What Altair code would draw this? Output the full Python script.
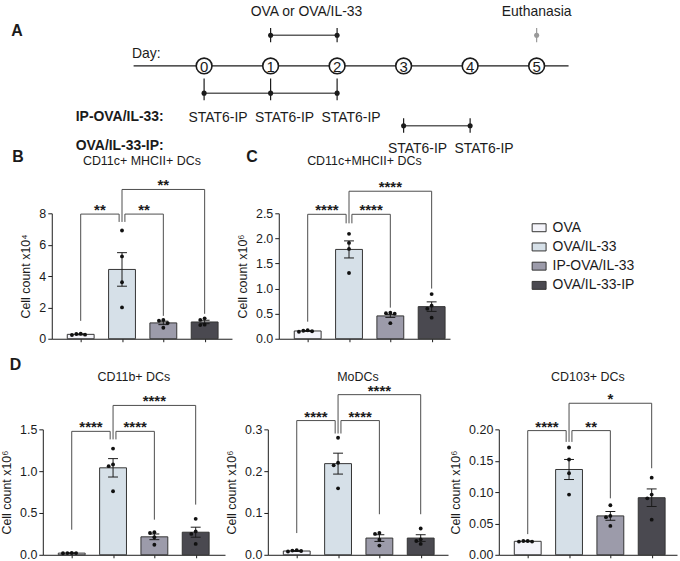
import altair as alt
import numpy as np
import pandas as pd

FONT = "Liberation Sans"
INK = "#1b1b1b"
LINE = "#4d4d4d"

GROUPS = ["OVA", "OVA/IL-33", "IP-OVA/IL-33", "OVA/IL-33-IP"]
FILLS = ["#f4f4fa", "#d6e0e8", "#9c9baa", "#4a4950"]

# ---- B: CD11c+ MHCII+ DCs (x10^4)
B_TITLE = "CD11c+ MHCII+ DCs"
B_EXP = "⁴"
B_TICKS = [0, 2, 4, 6, 8]
B_POINTS = [[0.32, 0.30, 0.26, 0.24], [6.9, 5.25, 3.6, 2.0], [1.2, 1.15, 1.0, 0.7], [1.3, 1.2, 0.9, 0.87]]
B_MEAN = [0.28, 4.42, 1.01, 1.07]
B_SEM = [0.03, 1.07, 0.11, 0.11]
B_SIG = [(1, 2, 7.95, "**"), (2, 3, 7.95, "**"), (2, 4, 9.52, "**")]
B_LEGS = [1.14, 7.45, 1.46, 1.59]

# ---- C: CD11c+MHCII+ DCs (x10^6)
C_TITLE = "CD11c+MHCII+ DCs"
C_EXP = "⁶"
C_TICKS = [0, 0.5, 1.0, 1.5, 2.0, 2.5]
C_POINTS = [[0.17, 0.16, 0.15, 0.14], [2.09, 1.91, 1.79, 1.31], [0.52, 0.51, 0.50, 0.31], [0.89, 0.66, 0.60, 0.42]]
C_MEAN = [0.155, 1.78, 0.455, 0.64]
C_SEM = [0.008, 0.17, 0.03, 0.095]
C_SIG = [(1, 2, 2.48, "****"), (2, 3, 2.48, "****"), (2, 4, 2.94, "****")]
C_LEGS = [0.34, 2.3, 0.62, 1.0]

# ---- D: CD11b+ DCs, MoDCs, CD103+ DCs (x10^6)
D1_TITLE = "CD11b+ DCs"
D1_TICKS = [0, 0.5, 1.0, 1.5]
D1_POINTS = [[0.022, 0.020, 0.020, 0.018], [1.27, 1.08, 1.06, 0.76], [0.27, 0.26, 0.21, 0.12], [0.43, 0.28, 0.25, 0.13]]
D1_MEAN = [0.02, 1.04, 0.215, 0.27]
D1_SEM = [0.002, 0.11, 0.034, 0.06]
D1_SIG = [(1, 2, 1.476, "****"), (2, 3, 1.476, "****"), (2, 4, 1.786, "****")]
D1_LEGS = [0.3, 1.38, 0.42, 0.6]

D2_TITLE = "MoDCs"
D2_TICKS = [0, 0.1, 0.2, 0.3]
D2_POINTS = [[0.011, 0.010, 0.009, 0.008], [0.28, 0.22, 0.214, 0.159], [0.052, 0.05, 0.036, 0.022], [0.063, 0.037, 0.033, 0.026]]
D2_MEAN = [0.009, 0.218, 0.04, 0.04]
D2_SEM = [0.001, 0.025, 0.008, 0.008]
D2_SIG = [(1, 2, 0.321, "****"), (2, 3, 0.321, "****"), (2, 4, 0.383, "****")]
D2_LEGS = [0.052, 0.29, 0.097, 0.097]

D3_TITLE = "CD103+ DCs"
D3_TICKS = [0, 0.05, 0.10, 0.15, 0.20]
D3_POINTS = [[0.022, 0.022, 0.021, 0.021], [0.171, 0.152, 0.130, 0.096], [0.079, 0.062, 0.060, 0.046], [0.123, 0.096, 0.090, 0.056]]
D3_MEAN = [0.0215, 0.136, 0.062, 0.091]
D3_SEM = [0.0005, 0.016, 0.007, 0.014]
D3_SIG = [(1, 2, 0.198, "****"), (2, 3, 0.198, "**"), (2, 4, 0.2416, "*")]
D3_LEGS = [0.033, 0.18, 0.09, 0.138]

# ---- A: dosing timeline
DAYS = [0, 1, 2, 3, 4, 5]
DOSE_DAYS = [1, 2]
EARLY_IP_DAYS = [0, 1, 2]
LATE_IP_DAYS = [3, 4]
END_DAY = 5

# layout
PANEL_H = 126
STEP_PX = 41.5
X_START = 0.3
BAR_HALF = 0.325
CAP_HALF = 0.12
SHARED_GAP = 0.07
DOT_PX = 4.4

A_W, A_H = 680, 150
DAY_PX, DAY0_PX = 66.8, 202
LVL_PX, LVL0_PX = 30, 65


def swarm(values, ppu):
    """Horizontal offsets (in x units) so that dots of similar value do not overlap."""
    placed = []
    offs = [0.0] * len(values)
    for k in sorted(range(len(values)), key=lambda i: -values[i]):
        py = values[k] * ppu
        ox = 0.0
        for m in [0, -1, 1, -2, 2, -3, 3]:
            ox = m * DOT_PX
            if all(np.hypot(ox - qx, py - qy) >= DOT_PX for qx, qy in placed):
                break
        placed.append((ox, py))
        offs[k] = ox / STEP_PX
    return offs


def bar_panel(title, exp, ticks, fmt, points, mean, sem, sig, legs, width,
              letter=None, letter_x=0, letter_y=0, legend=None):
    ymax = ticks[-1]
    ppu = PANEL_H / ymax
    pos = [1, 2, 3, 4]
    xs = alt.Scale(domain=[X_START, X_START + width / STEP_PX], nice=False, zero=False)
    ys = alt.Scale(domain=[0, ymax], nice=False, zero=False)
    x_axis = alt.Axis(values=pos, labels=False, title=None, grid=False, tickSize=3,
                      domainColor=INK, tickColor=INK, domainWidth=1, tickWidth=1)
    y_axis = alt.Axis(values=ticks, format=fmt, title=f"Cell count x10{exp}", grid=False,
                      tickSize=4, domainColor=INK, tickColor=INK, labelColor=INK,
                      labelFontSize=12.5, labelPadding=2, titleFontSize=12.5,
                      titleFontWeight="normal", titleColor=INK, titlePadding=6)
    X = lambda f: alt.X(f, scale=xs, axis=x_axis)
    Y = lambda f: alt.Y(f, scale=ys, axis=y_axis)

    bars = pd.DataFrame({
        "group": GROUPS, "pos": pos,
        "left": [p - BAR_HALF for p in pos], "right": [p + BAR_HALF for p in pos],
        "mean": mean, "base": [0] * 4,
        "lo": [m - s for m, s in zip(mean, sem)], "hi": [m + s for m, s in zip(mean, sem)],
    })
    caps = pd.DataFrame({
        "cl": [p - CAP_HALF for p in pos] * 2, "cr": [p + CAP_HALF for p in pos] * 2,
        "v": list(bars["lo"]) + list(bars["hi"]),
    })
    prow = []
    for g, vals in enumerate(points):
        for v, o in zip(vals, swarm(vals, ppu)):
            prow.append({"px": pos[g] + o, "val": v})
    pts = pd.DataFrame(prow)

    hl, vl, st = [], [], []
    for (i, j, lvl, stars) in sig:
        def shift(g, right_end):
            shared = sum(1 for (a, b, l, _) in sig if l == lvl and g in (a, b)) > 1
            if not shared:
                return 0.0
            return -SHARED_GAP if right_end else SHARED_GAP
        xi = i + shift(i, False)
        xj = j + shift(j, True)
        hl.append({"x": xi, "x2": xj, "y": lvl})
        vl.append({"x": xi, "y": legs[i - 1], "y2": lvl})
        vl.append({"x": xj, "y": legs[j - 1], "y2": lvl})
        st.append({"x": (xi + xj) / 2, "y": lvl, "t": stars})

    fill_kw = {"scale": alt.Scale(domain=GROUPS, range=FILLS)}
    fill_kw["legend"] = legend
    bar = alt.Chart(bars).mark_rect(stroke="#333333", strokeWidth=1).encode(
        x=X("left:Q"), x2="right:Q", y=Y("mean:Q"), y2="base:Q",
        fill=alt.Fill("group:N", **fill_kw),
    )
    err = alt.Chart(bars).mark_rule(color=INK, strokeWidth=1).encode(
        x=X("pos:Q"), y=Y("lo:Q"), y2="hi:Q")
    cap = alt.Chart(caps).mark_rule(color=INK, strokeWidth=1).encode(
        x=X("cl:Q"), x2="cr:Q", y=Y("v:Q"))
    dots = alt.Chart(pts).mark_circle(size=15, color="#111111", opacity=1).encode(
        x=X("px:Q"), y=Y("val:Q"))
    hline = alt.Chart(pd.DataFrame(hl)).mark_rule(color=LINE, strokeWidth=1).encode(
        x=X("x:Q"), x2="x2:Q", y=Y("y:Q"))
    vline = alt.Chart(pd.DataFrame(vl)).mark_rule(color=LINE, strokeWidth=1).encode(
        x=X("x:Q"), y=Y("y:Q"), y2="y2:Q")
    star = alt.Chart(pd.DataFrame(st)).mark_text(
        font=FONT, fontSize=15, fontWeight="bold", color=INK, baseline="alphabetic", dy=1
    ).encode(x=X("x:Q"), y=Y("y:Q"), text="t:N")
    head = alt.Chart(pd.DataFrame({"t": [title]})).mark_text(
        font=FONT, fontSize=12.5, color=INK, baseline="middle", align="center"
    ).encode(text="t:N", x=alt.value(width / 2), y=alt.value(-53))
    layers = [bar, err, cap, dots, hline, vline, star, head]
    if letter:
        layers.append(alt.Chart(pd.DataFrame({"t": [letter]})).mark_text(
            font=FONT, fontSize=16, fontWeight="bold", color=INK, baseline="middle", align="center"
        ).encode(text="t:N", x=alt.value(letter_x), y=alt.value(letter_y)))
    return alt.layer(*layers).properties(width=width, height=PANEL_H)


def schematic():
    xs = alt.Scale(domain=[-DAY0_PX / DAY_PX, (A_W - DAY0_PX) / DAY_PX], nice=False, zero=False)
    ys = alt.Scale(domain=[(LVL0_PX - A_H) / LVL_PX, LVL0_PX / LVL_PX], nice=False, zero=False)
    X = lambda f: alt.X(f, scale=xs, axis=None)
    Y = lambda f: alt.Y(f, scale=ys, axis=None)
    grey = "#9a9a9a"
    lv_dose, lv_early, lv_late = 1.03, -0.91, -2.0
    fs = 14

    line = alt.Chart(pd.DataFrame({"d": [-1.06], "d2": [5.48], "l": [0.0]})).mark_rule(
        color=INK, strokeWidth=1.2).encode(x=X("d:Q"), x2="d2:Q", y=Y("l:Q"))
    spans = pd.DataFrame({
        "d": [min(DOSE_DAYS), min(EARLY_IP_DAYS), min(LATE_IP_DAYS)],
        "d2": [max(DOSE_DAYS), max(EARLY_IP_DAYS), max(LATE_IP_DAYS)],
        "l": [lv_dose, lv_early, lv_late]})
    span = alt.Chart(spans).mark_rule(color="#5e5e5e", strokeWidth=1.5).encode(
        x=X("d:Q"), x2="d2:Q", y=Y("l:Q"))
    trows = ([(d, lv_dose + 0.24, lv_dose - 0.24, INK) for d in DOSE_DAYS]
             + [(END_DAY, lv_dose + 0.24, lv_dose - 0.24, grey)]
             + [(d, -0.42, -1.15, INK) for d in EARLY_IP_DAYS]
             + [(d, lv_late + 0.25, lv_late - 0.24, INK) for d in LATE_IP_DAYS])
    ticks = alt.Chart(pd.DataFrame(trows, columns=["d", "l", "l2", "c"])).mark_rule(strokeWidth=1.2).encode(
        x=X("d:Q"), y=Y("l:Q"), y2="l2:Q", color=alt.Color("c:N", scale=None))
    drows = ([(d, lv_dose, INK) for d in DOSE_DAYS] + [(END_DAY, lv_dose, grey)]
             + [(d, lv_early, INK) for d in EARLY_IP_DAYS] + [(d, lv_late, INK) for d in LATE_IP_DAYS])
    dots = alt.Chart(pd.DataFrame(drows, columns=["d", "l", "c"])).mark_circle(size=26, opacity=1).encode(
        x=X("d:Q"), y=Y("l:Q"), color=alt.Color("c:N", scale=None))
    days = pd.DataFrame({"d": DAYS, "l": [0.0] * len(DAYS), "t": [str(d) for d in DAYS]})
    rings = alt.Chart(days).mark_point(shape="circle", size=250, filled=True, fill="white",
                                       stroke=INK, strokeWidth=1.6, opacity=1).encode(x=X("d:Q"), y=Y("l:Q"))
    nums = alt.Chart(days).mark_text(font=FONT, fontSize=15, color=INK, baseline="middle", dy=1).encode(
        x=X("d:Q"), y=Y("l:Q"), text="t:N")
    crow = ([("OVA or OVA/IL-33", 1.54, 1.817), ("Euthanasia", END_DAY, 1.817), ("Day:", -0.87, 0.4)]
            + [("STAT6-IP", d + 0.21, -1.75) for d in EARLY_IP_DAYS]
            + [("STAT6-IP", d + 0.21, -2.767) for d in LATE_IP_DAYS])
    ctext = alt.Chart(pd.DataFrame(crow, columns=["t", "d", "l"])).mark_text(
        font=FONT, fontSize=fs, color=INK, baseline="middle", align="center").encode(
        x=X("d:Q"), y=Y("l:Q"), text="t:N")
    brow = [("IP-OVA/IL-33:", -1.93, -1.717), ("OVA/IL-33-IP:", -1.93, -2.667)]
    btext = alt.Chart(pd.DataFrame(brow, columns=["t", "d", "l"])).mark_text(
        font=FONT, fontSize=fs, fontWeight="bold", color=INK, baseline="middle", align="left").encode(
        x=X("d:Q"), y=Y("l:Q"), text="t:N")
    letter = alt.Chart(pd.DataFrame({"t": ["A"]})).mark_text(
        font=FONT, fontSize=16, fontWeight="bold", color=INK, baseline="middle", align="center").encode(
        text="t:N", x=alt.value(14), y=alt.value(30))
    return alt.layer(line, span, ticks, dots, rings, nums, ctext, btext, letter).properties(width=A_W, height=A_H)


def spacer(w):
    return alt.Chart(pd.DataFrame({"z": [0]})).mark_point(opacity=0).encode(
        x=alt.value(0), y=alt.value(0)).properties(width=w, height=PANEL_H)


legend = alt.Legend(orient="none", legendX=254, legendY=7, title=None,
                    symbolType="M-1,-0.57H1V0.57H-1Z", symbolSize=196,
                    symbolStrokeColor="#333333", symbolStrokeWidth=1, symbolOpacity=1,
                    labelFont=FONT, labelFontSize=14, labelColor=INK,
                    labelOffset=6, rowPadding=4.3, padding=0)

panel_b = bar_panel(B_TITLE, B_EXP, B_TICKS, "d", B_POINTS, B_MEAN, B_SEM, B_SIG, B_LEGS, 181,
                    letter="B", letter_x=-34, letter_y=-57)
panel_c = bar_panel(C_TITLE, C_EXP, C_TICKS, ".1f", C_POINTS, C_MEAN, C_SEM, C_SIG, C_LEGS, 172,
                    letter="C", letter_x=-27, letter_y=-57, legend=legend)
panel_d1 = bar_panel(D1_TITLE, "⁶", D1_TICKS, ".1f", D1_POINTS, D1_MEAN, D1_SEM, D1_SIG, D1_LEGS, 183,
                     letter="D", letter_x=-27.5, letter_y=-65)
panel_d2 = bar_panel(D2_TITLE, "⁶", D2_TICKS, ".1f", D2_POINTS, D2_MEAN, D2_SEM, D2_SIG, D2_LEGS, 181)
panel_d3 = bar_panel(D3_TITLE, "⁶", D3_TICKS, ".2f", D3_POINTS, D3_MEAN, D3_SEM, D3_SIG, D3_LEGS, 179)

row_bc = alt.hconcat(spacer(49), panel_b, spacer(47), panel_c, spacing=0, bounds="flush"
                     ).resolve_scale(fill="independent").resolve_legend(fill="independent")
row_d = alt.hconcat(spacer(40), panel_d1, spacer(43), panel_d2, spacer(51), panel_d3, spacing=0, bounds="flush"
                    ).resolve_scale(fill="independent").resolve_legend(fill="independent")
lower = alt.vconcat(row_bc, row_d, spacing=11).resolve_scale(fill="independent").resolve_legend(fill="independent")

chart = (
    alt.vconcat(schematic(), lower, spacing=-8)
    .resolve_scale(fill="independent")
    .resolve_legend(fill="independent")
    .properties(padding=0, background="white")
    .configure_view(stroke=None)
    .configure_text(font=FONT)
    .configure_axis(labelFont=FONT, titleFont=FONT)
)

chart.save("out.html", embed_options={"renderer": "svg", "actions": False})
